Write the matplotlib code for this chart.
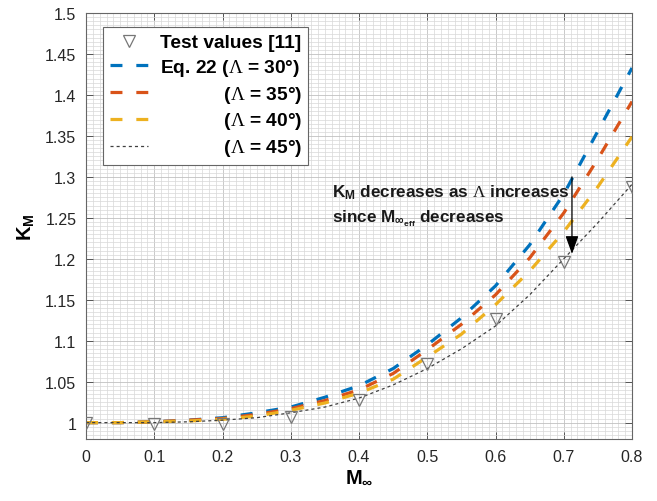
import matplotlib
matplotlib.use('Agg')
import matplotlib.pyplot as plt
from matplotlib.ticker import MultipleLocator, FuncFormatter

plt.rcParams['font.family'] = ['Liberation Sans', 'DejaVu Sans']
plt.rcParams['mathtext.fontset'] = 'custom'
plt.rcParams['mathtext.rm'] = 'Liberation Sans:bold'
plt.rcParams['mathtext.it'] = 'Liberation Sans:bold'
plt.rcParams['mathtext.bf'] = 'Liberation Sans:bold'
plt.rcParams['mathtext.sf'] = 'Liberation Serif'
plt.rcParams['lines.scale_dashes'] = False

# Mach numbers for the Eq. 22 curves
mach = [0.0, 0.05, 0.1, 0.15, 0.2, 0.25, 0.3, 0.35, 0.4,
        0.45, 0.5, 0.55, 0.6, 0.65, 0.7, 0.75, 0.8]
km_30 = [1.000, 1.000, 1.001, 1.003, 1.006, 1.012, 1.019, 1.031, 1.045,
         1.066, 1.095, 1.128, 1.167, 1.217, 1.279, 1.356, 1.433]
km_35 = [1.000, 1.000, 1.001, 1.003, 1.005, 1.010, 1.017, 1.027, 1.040,
         1.060, 1.089, 1.120, 1.156, 1.201, 1.256, 1.322, 1.392]
km_40 = [1.000, 1.000, 1.001, 1.002, 1.004, 1.008, 1.015, 1.024, 1.036,
         1.053, 1.080, 1.108, 1.144, 1.185, 1.233, 1.288, 1.349]
km_45 = [1.000, 1.000, 1.000, 1.001, 1.003, 1.006, 1.012, 1.019, 1.030,
         1.046, 1.066, 1.090, 1.118, 1.156, 1.200, 1.244, 1.291]

# test values [11]
mach_test = [0.0, 0.1, 0.2, 0.3, 0.4, 0.5, 0.6, 0.7, 0.8]
km_test = [1.000, 0.998, 0.998, 1.007, 1.028, 1.071, 1.126, 1.196, 1.288]

fig = plt.figure(figsize=(6.57, 5.02), dpi=100)
ax = fig.add_axes([0.131, 0.1235, 0.831, 0.8485])

dash = (0, (8.6, 10))
ax.plot(mach_test, km_test, 'v', mfc='none', mec='#777777', ms=8, mew=0.9,
        label='Test values [11]', zorder=3)
ax.plot(mach, km_30, color='#0072BD', lw=2.3, linestyle=dash,
        label=r'Eq. 22 ($\mathsf{\Lambda}$ = 30°)')
ax.plot(mach, km_35, color='#D95319', lw=2.3, linestyle=dash,
        label=r'            ($\mathsf{\Lambda}$ = 35°)')
ax.plot(mach, km_40, color='#EDB120', lw=2.3, linestyle=dash,
        label=r'            ($\mathsf{\Lambda}$ = 40°)')
ax.plot(mach, km_45, color='#404040', lw=0.9, linestyle=(0, (2.2, 2.2)),
        label=r'            ($\mathsf{\Lambda}$ = 45°)')

ax.set_xlim(0, 0.8)
ax.set_ylim(0.98, 1.5)
ax.xaxis.set_major_locator(MultipleLocator(0.1))
ax.yaxis.set_major_locator(MultipleLocator(0.05))
ax.xaxis.set_minor_locator(MultipleLocator(0.01))
ax.yaxis.set_minor_locator(MultipleLocator(0.005))
fmt = FuncFormatter(lambda v, p: ('%.2f' % v).rstrip('0').rstrip('.'))
ax.xaxis.set_major_formatter(fmt)
ax.yaxis.set_major_formatter(fmt)

ax.grid(which='major', color='#c0c0c0', lw=0.6)
ax.grid(which='minor', color='#d8d8d8', lw=0.5)
ax.set_axisbelow(True)
ax.tick_params(which='major', direction='in', top=True, right=True, length=5,
               width=0.7, color='#555555', labelsize=11.5, labelcolor='#262626', pad=7)
ax.tick_params(which='minor', length=0)
for s in ax.spines.values():
    s.set_color('#666666')
    s.set_linewidth(0.8)

ax.set_xlabel(r'$\mathbf{M_\infty}$', fontsize=14.5, labelpad=2)
ax.set_ylabel(r'$\mathbf{K_M}$', fontsize=14.5, labelpad=6)

leg = ax.legend(loc='upper left', bbox_to_anchor=(0.031, 0.967), borderaxespad=0,
                prop={'weight': 'bold', 'size': 13.8}, handlelength=2.0,
                handletextpad=0.6, labelspacing=0.3, borderpad=0.35,
                fancybox=False, framealpha=1, edgecolor='#666666')
leg.get_frame().set_linewidth(0.8)

ax.text(0.36, 1.2763, r'$\mathbf{K_M}$ decreases as $\mathsf{\Lambda}$ increases',
        fontsize=12.3, fontweight='bold', color='#1a1a1a', va='baseline')
ax.text(0.36, 1.2457, r'since $\mathbf{M_{\infty_{eff}}}$ decreases',
        fontsize=12.3, fontweight='bold', color='#1a1a1a', va='baseline')
ax.annotate('', xy=(0.712, 1.206), xytext=(0.712, 1.30),
            arrowprops=dict(arrowstyle='-|>,head_length=0.55,head_width=0.2',
                            color='k', lw=0.9, mutation_scale=20, shrinkA=0, shrinkB=0))

fig.savefig('out.png', dpi=100)
